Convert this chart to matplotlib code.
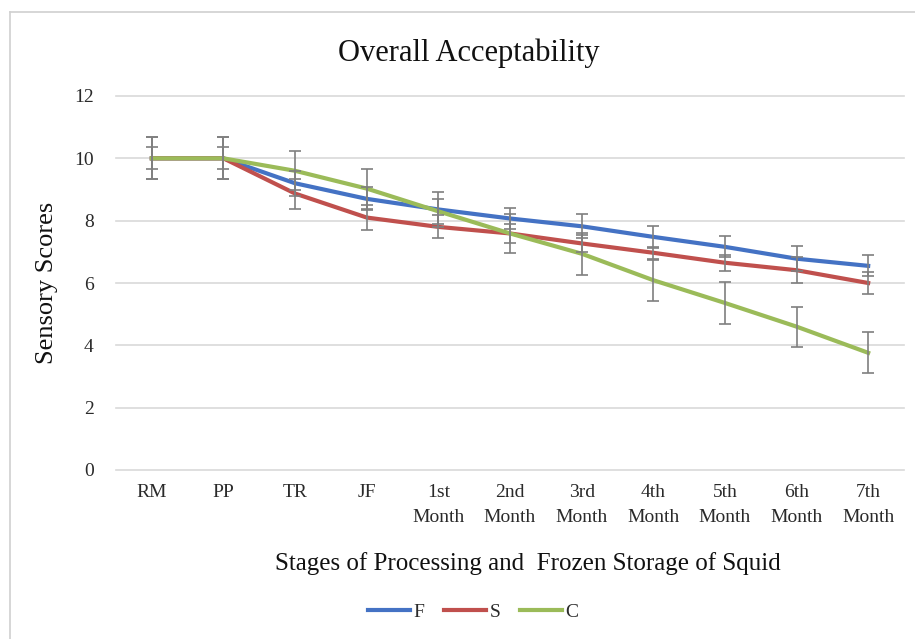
import numpy as np
import matplotlib
matplotlib.use("Agg")
from matplotlib import pyplot as plt
from matplotlib.lines import Line2D

# stages and sensory scores
stages = ["RM", "PP", "TR", "JF", "1st\nMonth", "2nd\nMonth", "3rd\nMonth",
          "4th\nMonth", "5th\nMonth", "6th\nMonth", "7th\nMonth"]
f_scores = [10.0, 10.0, 9.2, 8.7, 8.36, 8.07, 7.82, 7.48, 7.16, 6.78, 6.55]
s_scores = [10.0, 10.0, 8.87, 8.1, 7.8, 7.59, 7.27, 6.97, 6.65, 6.41, 6.0]
c_scores = [10.0, 10.0, 9.6, 9.03, 8.3, 7.59, 6.94, 6.09, 5.36, 4.6, 3.76]
f_err = [0.35, 0.35, 0.4, 0.37, 0.56, 0.34, 0.38, 0.35, 0.34, 0.4, 0.34]
s_err = [0.67, 0.67, 0.48, 0.4, 0.37, 0.3, 0.27, 0.2, 0.25, 0.41, 0.34]
c_err = [0.67, 0.67, 0.63, 0.64, 0.4, 0.62, 0.68, 0.66, 0.68, 0.64, 0.66]

series_names = ["F", "S", "C"]
colors = ["#4472C4", "#C0504D", "#9BBB59"]

plt.rcParams['font.family'] = ['Liberation Serif', 'DejaVu Serif']

fig = plt.figure(figsize=(9.15, 6.39), dpi=100)
ax = fig.add_axes([116/915, 1 - 470/639, (904 - 116)/915, (470 - 96)/639])

x = np.arange(len(stages))
all_scores = [f_scores, s_scores, c_scores]
all_err = [f_err, s_err, c_err]

for scores, err, col, name in zip(all_scores, all_err, colors, series_names):
    ax.plot(x, scores, color=col, lw=3, label=name, zorder=3)
    ax.errorbar(x, scores, yerr=err, fmt='none', ecolor='#7f7f7f',
                elinewidth=1.2, capsize=4, capthick=1.2, zorder=4)

ax.set_xlim(-0.5, len(stages) - 0.5)
ax.set_ylim(0, 12)
ax.set_yticks(range(0, 13, 2))
ax.set_xticks(x)
ax.set_xticklabels(stages, fontsize=14, linespacing=1.6, va='top')
ax.tick_params(axis='y', labelsize=14, length=0, pad=16, labelcolor='#2a2a2a')
ax.tick_params(axis='x', length=0, pad=10, labelcolor='#2a2a2a')
ax.grid(axis='y', color='#d9d9d9', lw=1.2)
for gl in ax.get_ygridlines():
    gl.set_clip_on(False)
ax.set_axisbelow(True)
for s in ax.spines.values():
    s.set_visible(False)

fig.text(469/915, 1 - 53/639, "Overall Acceptability", fontsize=22,
         ha='center', va='center', color='#111111')
fig.text(47/915, 1 - 283/639, "Sensory Scores", fontsize=19, rotation=90,
         ha='center', va='center', color='#111111')
fig.text(528/915, 1 - 564/639, "Stages of Processing and  Frozen Storage of Squid",
         fontsize=18, ha='center', va='center', color='#111111')

handles = [Line2D([], [], color=c, lw=3) for c in colors]
fig.legend(handles, series_names, loc='center', bbox_to_anchor=(473/915, 1 - 612/639),
           ncol=3, frameon=False, fontsize=14, handlelength=2.2, handletextpad=0.15,
           columnspacing=1.0, labelcolor='#2a2a2a')

# light frame around the chart
fig.add_artist(Line2D([10/915, 10/915], [0, 1 - 12/639], color='#d0d0d0', lw=1.2))
fig.add_artist(Line2D([10/915, 1], [1 - 12/639, 1 - 12/639], color='#d0d0d0', lw=1.2))

fig.savefig("out.png", dpi=100)
